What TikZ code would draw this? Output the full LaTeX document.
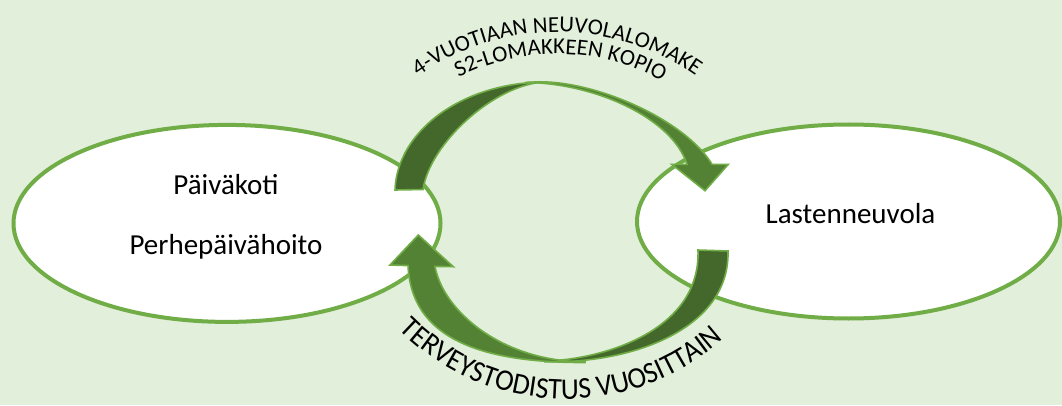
\documentclass[tikz,border=0pt]{standalone}
\usepackage{fontspec}
\setmainfont{Carlito}
\newfontfamily\arcfontB{Carlito}[FakeStretch=0.93]
\usetikzlibrary{decorations.text,shapes.geometric}
\definecolor{bg}{HTML}{E2EFDA}
\definecolor{lgreen}{HTML}{70AD47}
\definecolor{mgreen}{HTML}{548235}
\definecolor{dgreen}{HTML}{44682C}
\begin{document}
\begin{tikzpicture}[x=1pt,y=1pt,
  bubble/.style={ellipse, draw=lgreen, line width=4pt, fill=white, inner sep=0pt},
  lbl/.style={font=\fontsize{29}{29}\selectfont, text=black, inner sep=0pt, anchor=base},
  ribdark/.style={fill=dgreen, draw=lgreen, line width=1.6pt},
  ribmed/.style={fill=mgreen, draw=lgreen, line width=1.6pt},
  arctext/.style={decorate, decoration={text along path, text align=center, text color=black}}
]
\fill[bg] (0,0) rectangle (1062,405);
\useasboundingbox (0,0) rectangle (1062,405);

% ellipses
\node[bubble, minimum width=427pt, minimum height=197pt] (left) at (227,181.6) {};
\node[bubble, minimum width=423pt, minimum height=194pt] (right) at (848.5,183.5) {};

\node[lbl] (pk) at (226,211) {Päiväkoti};
\node[lbl] (ph) at (226,151) {Perhepäivähoito};
\node[lbl] (ln) at (850.5,181.7) {Lastenneuvola};

% top arrow
\path[ribdark] (395,215) .. controls (397,274) and (462,322.5) .. (545,323)
   .. controls (495,321) and (430,262) .. (423,215.5) -- cycle;
\path[ribmed] (525,322.6) -- (540,323.2) .. controls (600,323.2) and (686.5,283.5) .. (712,240.7)
   -- (728.3,240.7) -- (705,214.3) -- (671.7,240.7) -- (687,240.7)
   .. controls (672,287) and (595,322) .. (525,322.6) -- cycle;

% bottom arrow
\path[ribdark] (728,154) .. controls (730,75) and (630,41) .. (545,43.2) -- (545,44)
   .. controls (598,45) and (701,72) .. (698,155) -- cycle;
\path[ribmed] (585,42.5) .. controls (465,42) and (411,75) .. (408,139.4)
   -- (390,140) -- (418.3,170) -- (453.3,138.3) -- (435,138.6)
   .. controls (443,95) and (500,44) .. (585,43) -- cycle;

% curved texts
\path[arctext, decoration={text={|\fontsize{22.8}{22.8}\selectfont|4-VUOTIAAN NEUVOLALOMAKE}}]
  (557,133) ++(140:240pt) arc[start angle=140, end angle=40, radius=240pt];
\path[arctext, decoration={text={|\fontsize{22.8}{22.8}\selectfont|S2-LOMAKKEEN KOPIO}}]
  (557,133) ++(139:218pt) arc[start angle=139, end angle=39, radius=218pt];
\path[arctext, decoration={text={|\arcfontB\fontsize{30}{30}\selectfont|TERVEYSTODISTUS VUOSITTAIN}}]
  (566,242) ++(208.4:236pt) arc[start angle=208.4, end angle=328.4, radius=236pt];
\end{tikzpicture}
\end{document}
